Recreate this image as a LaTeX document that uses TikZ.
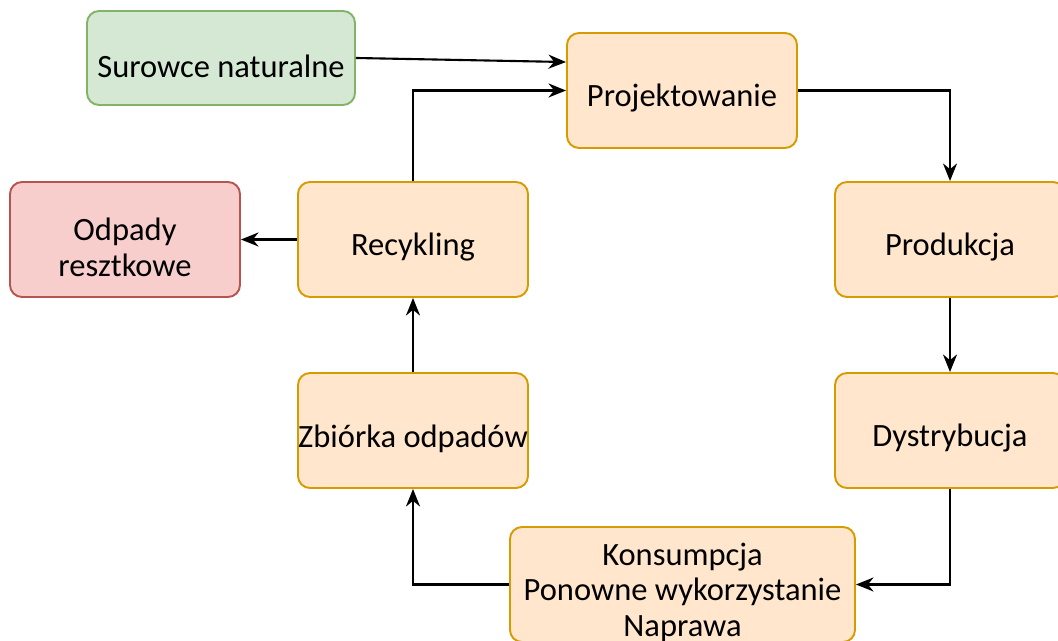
\documentclass[tikz,border=0pt]{standalone}
\usepackage{fontspec}
\setmainfont{Carlito}
\usepackage{tikz}
\usetikzlibrary{arrows.meta}
\definecolor{greenfill}{HTML}{D5E8D4}
\definecolor{greenline}{HTML}{82B366}
\definecolor{orangefill}{HTML}{FFE6CC}
\definecolor{orangeline}{HTML}{D79B00}
\definecolor{redfill}{HTML}{F8CECC}
\definecolor{redline}{HTML}{B85450}

\begin{document}
\begin{tikzpicture}[
    box/.style={draw=orangeline, fill=orangefill, line width=1.1pt, rounded corners=0.24cm,
      minimum width=4.6cm, minimum height=2.3cm,
      label={[yshift=-4.5pt, align=center, font=\fontsize{18.5}{20}\selectfont]center:#1}},
    arr/.style={-{Stealth[length=10pt,width=8pt]}, line width=1.2pt}]
      \useasboundingbox (0,0) rectangle (21.16,12.82);
      \node[box={Surowce naturalne}, draw=greenline, fill=greenfill, minimum width=5.36cm, minimum height=1.88cm] (sur) at (4.42,11.66) {};
      \node[box={Projektowanie}] (proj) at (13.64,11.01) {};
      \node[box={Odpady\\resztkowe}, draw=redline, fill=redfill] (odp) at (2.5,8.03) {};
      \node[box={Recykling}] (rec) at (8.26,8.03) {};
      \node[box={Produkcja}] (prod) at (19.0,8.03) {};
      \node[box={Zbiórka odpadów}] (zb) at (8.26,4.21) {};
      \node[box={Dystrybucja}] (dys) at (19.0,4.21) {};
      \node[box={Konsumpcja\\Ponowne wykorzystanie\\Naprawa}, minimum width=6.9cm] (kons) at (13.65,1.13) {};
      \draw[arr] (sur.east) -- ([yshift=-0.6cm]proj.north west);
      \draw[arr] (proj.east) -| (prod.north);
      \draw[arr] (prod) -- (dys);
      \draw[arr] (dys.south) |- (kons.east);
      \draw[arr] (kons.west) -| (zb.south);
      \draw[arr] (zb) -- (rec);
      \draw[arr] (rec.north) |- (proj.west);
      \draw[arr] (rec) -- (odp);
\end{tikzpicture}
\end{document}
